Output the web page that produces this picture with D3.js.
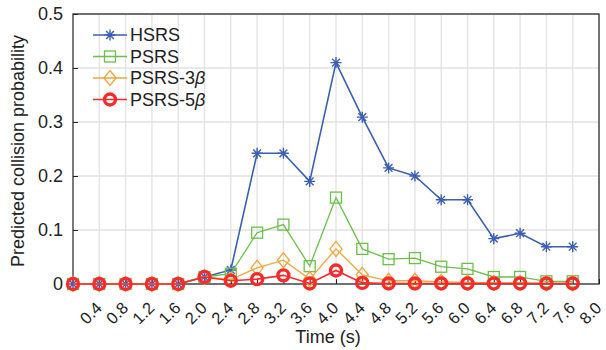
<!DOCTYPE html>
<html>
<head>
<meta charset="utf-8">
<script src="https://cdn.jsdelivr.net/npm/d3@7"></script>
<style>
  html, body { margin: 0; padding: 0; background: #fff; }
  svg { display: block; font-family: "Liberation Sans", Arial, sans-serif; }
</style>
</head>
<body>
<svg id="chart" width="606" height="350"></svg>
<script>
// Sample times (s)
const times = [0, 0.4, 0.8, 1.2, 1.6, 2.0, 2.4, 2.8, 3.2, 3.6, 4.0, 4.4, 4.8, 5.2, 5.6, 6.0, 6.4, 6.8, 7.2, 7.6];
// Predicted collision probability per strategy
const hsrs   = [0, 0, 0, 0, 0, 0.013, 0.026, 0.242, 0.242, 0.19, 0.41, 0.309, 0.215, 0.2, 0.156, 0.156, 0.084, 0.094, 0.069, 0.069];
const psrs   = [0, 0, 0, 0, 0, 0.013, 0.019, 0.095, 0.11, 0.033, 0.16, 0.065, 0.046, 0.048, 0.032, 0.028, 0.013, 0.013, 0.005, 0.005];
const psrs3b = [0, 0, 0, 0, 0, 0.013, 0.008, 0.03, 0.044, 0.009, 0.065, 0.017, 0.006, 0.006, 0.004, 0.003, 0.002, 0.002, 0.001, 0.001];
const psrs5b = [0, 0, 0, 0, 0, 0.013, 0.006, 0.009, 0.016, 0.001, 0.025, 0.002, 0.001, 0.001, 0.001, 0.001, 0.001, 0.001, 0.001, 0.001];
// Axis ticks
const xTicks = [0.4, 0.8, 1.2, 1.6, 2.0, 2.4, 2.8, 3.2, 3.6, 4.0, 4.4, 4.8, 5.2, 5.6, 6.0, 6.4, 6.8, 7.2, 7.6, 8.0];
const yTicks = [0, 0.1, 0.2, 0.3, 0.4, 0.5];

const svg = d3.select("#chart");
const L = 73, R = 599, T = 14, B = 284;
const x = d3.scaleLinear().domain([0, 8]).range([L, R]);
const y = d3.scaleLinear().domain([0, 0.5]).range([B, T]);

// Grid
const grid = svg.append("g").attr("stroke", "#e2e2e2").attr("stroke-width", 1.3);
grid.selectAll(".gx").data(xTicks).join("line")
  .attr("x1", d => x(d)).attr("x2", d => x(d)).attr("y1", T).attr("y2", B);
grid.selectAll(".gy").data(yTicks).join("line")
  .attr("x1", L).attr("x2", R).attr("y1", d => y(d)).attr("y2", d => y(d));

// Axes with inward ticks
const xAxis = d3.axisBottom(x).tickValues(xTicks).tickSize(-5).tickFormat(d3.format(".1f"));
const gx = svg.append("g").attr("transform", `translate(0,${B})`).call(xAxis);
gx.select(".domain").remove();
gx.selectAll(".tick line").attr("stroke", "#222");
gx.selectAll(".tick text")
  .attr("font-size", 16.5).attr("fill", "#222")
  .attr("text-anchor", "end")
  .attr("transform", "translate(-1,21) rotate(-45)")
  .attr("x", 0).attr("y", 0).attr("dy", "0.35em");

const yAxis = d3.axisLeft(y).tickValues(yTicks).tickSize(-5).tickPadding(10)
  .tickFormat(d => d === 0 ? "0" : d3.format(".1f")(d));
const gy = svg.append("g").attr("transform", `translate(${L},0)`).call(yAxis);
gy.select(".domain").remove();
gy.selectAll(".tick line").attr("stroke", "#222");
gy.selectAll(".tick text").attr("font-size", 18).attr("fill", "#222");

// Box
svg.append("rect").attr("x", L).attr("y", T).attr("width", R - L).attr("height", B - T)
  .attr("fill", "none").attr("stroke", "#222").attr("stroke-width", 1.2);

// Axis titles
svg.append("text").attr("x", (L + R) / 2 - 8).attr("y", 343).attr("text-anchor", "middle")
  .attr("font-size", 18).attr("fill", "#222").text("Time (s)");
svg.append("text").attr("transform", `translate(24,${(T + B) / 2 + 2}) rotate(-90)`)
  .attr("text-anchor", "middle").attr("font-size", 18).attr("fill", "#222")
  .text("Predicted collision probability");

// Marker painters
function star(g, cx, cy, color) {
  const r = 5.5, d = r * Math.SQRT1_2;
  const p = `M${cx - r},${cy}L${cx + r},${cy}M${cx},${cy - r}L${cx},${cy + r}` +
            `M${cx - d},${cy - d}L${cx + d},${cy + d}M${cx - d},${cy + d}L${cx + d},${cy - d}`;
  g.append("path").attr("d", p).attr("stroke", color).attr("stroke-width", 1.4).attr("fill", "none");
}
function square(g, cx, cy, color) {
  g.append("rect").attr("x", cx - 5.5).attr("y", cy - 5.5).attr("width", 11).attr("height", 11)
    .attr("fill", "none").attr("stroke", color).attr("stroke-width", 1.3);
}
function diamond(g, cx, cy, color) {
  const r = 7.5;
  g.append("path").attr("d", `M${cx},${cy - r}L${cx + r * 0.8},${cy}L${cx},${cy + r}L${cx - r * 0.8},${cy}Z`)
    .attr("fill", "none").attr("stroke", color).attr("stroke-width", 1.3);
}
function circle(g, cx, cy, color) {
  g.append("circle").attr("cx", cx).attr("cy", cy).attr("r", 5.5)
    .attr("fill", "none").attr("stroke", color).attr("stroke-width", 3.4);
}

const series = [
  { name: "HSRS",   values: hsrs,   color: "#3b5fb6", width: 1.6, marker: star },
  { name: "PSRS",   values: psrs,   color: "#6cc04a", width: 1.3, marker: square },
  { name: "PSRS-3", values: psrs3b, color: "#f2a53a", width: 1.3, marker: diamond },
  { name: "PSRS-5", values: psrs5b, color: "#fb2a2a", width: 1.6, marker: circle },
];

const line = d3.line().x((d, i) => x(times[i])).y(d => y(d));
series.forEach(s => {
  const g = svg.append("g");
  g.append("path").datum(s.values).attr("d", line)
    .attr("fill", "none").attr("stroke", s.color).attr("stroke-width", s.width);
  s.values.forEach((v, i) => s.marker(g, x(times[i]), y(v), s.color));
});

// Legend
const legend = svg.append("g");
const rowY = [35, 56.5, 78, 99.5];
series.forEach((s, i) => {
  const ly = rowY[i];
  legend.append("line").attr("x1", 93).attr("x2", 127).attr("y1", ly).attr("y2", ly)
    .attr("stroke", s.color).attr("stroke-width", s.width);
  s.marker(legend, 110, ly, s.color);
  const t = legend.append("text").attr("x", 130).attr("y", ly).attr("dy", "0.36em")
    .attr("font-size", 18).attr("fill", "#222").text(s.name);
  if (i >= 2) t.append("tspan").attr("font-style", "italic").text("β");
});
</script>
</body>
</html>
